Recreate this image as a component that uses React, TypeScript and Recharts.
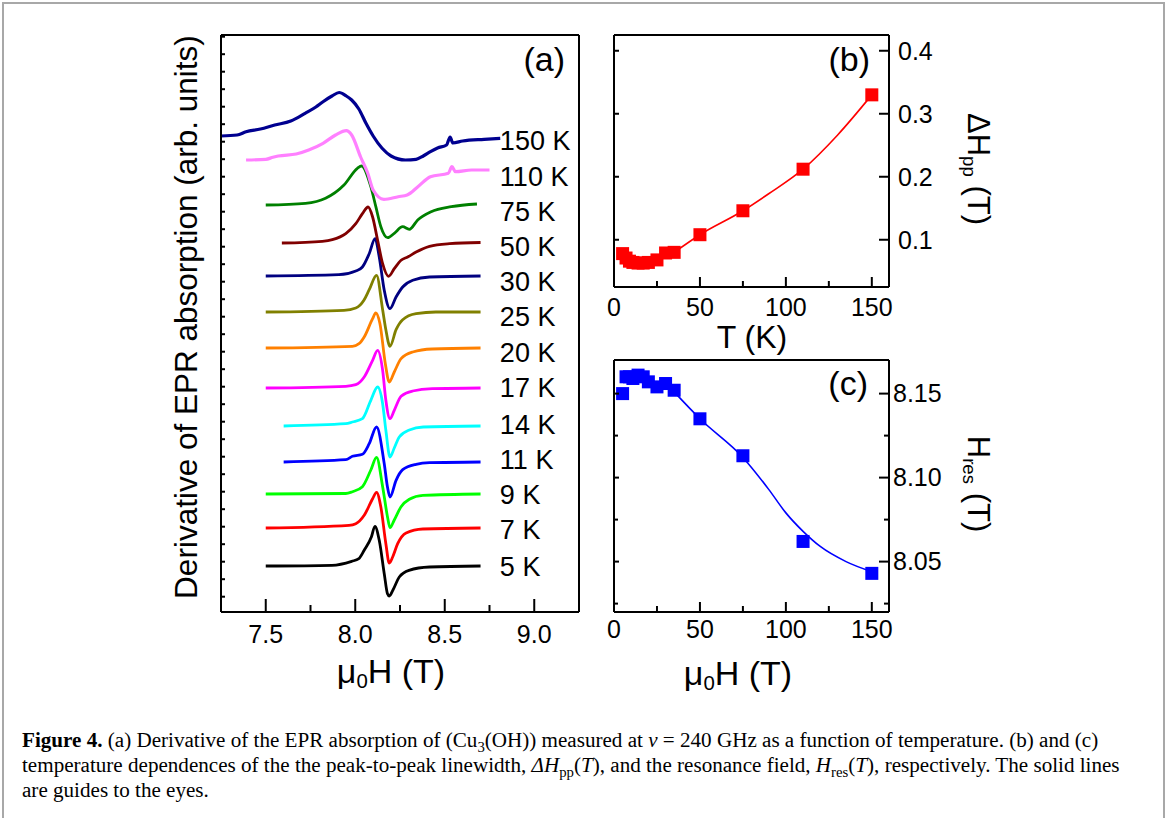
import { LineChart, Line, XAxis, YAxis, ReferenceDot } from "recharts";

const FONT = '"Liberation Sans", Arial, Helvetica, sans-serif';
const SERIF = '"Liberation Serif", "Times New Roman", serif';

// (a) EPR derivative spectra: [field (T), signal above the curve's own baseline]
const s5K = [[7.5, 0], [7.87, 0.7], [7.98, 4.7], [8.02, 7.3], [8.05, 15.7], [8.09, 29], [8.11, 39.7], [8.134, 25.7], [8.162, -7.7], [8.18, -27.7], [8.19, -30], [8.21, -24.3], [8.246, -11], [8.3, -4.3], [8.415, -1], [8.7, 0]];
const s7K = [[7.5, 0], [7.965, 2.7], [8.003, 4.3], [8.05, 12.7], [8.097, 29.3], [8.119, 35.7], [8.143, 21], [8.171, -15.7], [8.19, -35], [8.209, -29], [8.237, -15.7], [8.284, -5], [8.378, -1], [8.7, 0]];
const s9K = [[7.5, 0], [7.947, 0.5], [7.984, 2.3], [8.04, 7.3], [8.087, 24], [8.119, 36.7], [8.153, 7.3], [8.18, -22.7], [8.194, -33.7], [8.218, -26], [8.256, -12.7], [8.302, -5.3], [8.378, -1.3], [8.7, 0]];
const s11K = [[7.6, 0], [7.947, 2.3], [7.984, 5.7], [8.04, 7.7], [8.078, 18.3], [8.119, 35], [8.162, -1.7], [8.18, -25], [8.194, -35], [8.228, -18.3], [8.265, -7.7], [8.34, -2.3], [8.415, -0.7], [8.7, 0]];
const s14K = [[7.6, 0], [7.947, 2.3], [7.984, 4], [8.04, 7.3], [8.087, 25.7], [8.125, 39], [8.153, 22.3], [8.171, -4.3], [8.194, -31], [8.218, -22], [8.246, -11], [8.302, -4], [8.38, -1], [8.7, 0]];
const s17K = [[7.5, 0], [7.947, 1.7], [8.003, 3.3], [8.05, 11], [8.097, 27.7], [8.125, 37.7], [8.153, 17.7], [8.171, -12.3], [8.194, -30.7], [8.218, -22.3], [8.256, -8.3], [8.321, -3], [8.43, -0.7], [8.7, 0]];
const s20K = [[7.5, 0], [7.984, 1.7], [8.021, 4.3], [8.05, 11], [8.097, 29.3], [8.115, 35], [8.138, 24.3], [8.168, -15.7], [8.19, -34], [8.218, -24], [8.256, -10.7], [8.321, -4], [8.43, -1], [8.7, 0]];
const s25K = [[7.5, 0], [7.937, 1.7], [8.003, 4], [8.05, 12.3], [8.078, 22.3], [8.119, 36.7], [8.153, 2.3], [8.171, -17.7], [8.194, -34.3], [8.228, -17.7], [8.265, -7.7], [8.34, -1.7], [8.45, 0], [8.7, 0]];
const s30K = [[7.5, 0], [7.909, 1.3], [8.003, 5], [8.04, 9], [8.078, 22.3], [8.111, 37.3], [8.134, 19], [8.162, -14.3], [8.194, -32.7], [8.228, -21], [8.265, -11], [8.321, -4.3], [8.415, -1], [8.7, 0]];
const s50K = [[7.59, 0], [7.816, 1.7], [7.872, 3.3], [7.947, 9.3], [8.003, 19.3], [8.04, 29.3], [8.072, 36], [8.097, 26], [8.125, 2.7], [8.153, -20.7], [8.186, -33.3], [8.218, -25.7], [8.256, -17.3], [8.293, -14], [8.34, -9], [8.415, -3.3], [8.527, -0.7], [8.7, 0.5]];
const s75K = [[7.5, 0], [7.722, 1.7], [7.834, 6.7], [7.937, 20], [8.012, 36.7], [8.035, 39], [8.087, 18.3], [8.115, -1.7], [8.143, -21.7], [8.181, -32.7], [8.218, -28.3], [8.265, -21.7], [8.302, -24.3], [8.349, -15], [8.424, -6.7], [8.537, -1.7], [8.68, 1]];
const s110K = [[7.39, 0], [7.5, 0.7], [7.54, 2.7], [7.57, 4], [7.67, 6], [7.74, 10], [7.82, 16.7], [7.89, 25], [7.95, 29.3], [7.98, 25], [8.03, 3], [8.07, -13.3], [8.1, -30], [8.16, -39.3], [8.24, -36.7], [8.29, -35], [8.35, -26.7], [8.42, -16.7], [8.52, -13.3], [8.54, -6.7], [8.56, -11.7], [8.65, -10], [8.75, -10]];
const s150K = [[7.25, 0], [7.34, 1], [7.39, 4.3], [7.47, 7], [7.55, 11], [7.64, 15], [7.72, 22.7], [7.78, 29], [7.82, 34.3], [7.87, 40], [7.91, 43.5], [7.95, 40], [7.98, 36], [8.02, 27], [8.06, 12.7], [8.1, 0], [8.15, -12.3], [8.2, -20], [8.28, -24], [8.34, -23.3], [8.38, -20], [8.42, -15.7], [8.46, -12], [8.51, -9], [8.53, -1], [8.545, -7], [8.6, -5], [8.72, -3.3], [8.81, -2.3]];

const SPECTRA = [s5K, s7K, s9K, s11K, s14K, s17K, s20K, s25K, s30K, s50K, s75K, s110K, s150K];
const TEMPS = ["5 K", "7 K", "9 K", "11 K", "14 K", "17 K", "20 K", "25 K", "30 K", "50 K", "75 K", "110 K", "150 K"];
const OFFSETS = [46, 84, 118, 150, 186, 224, 264, 300, 336, 369, 407, 452, 476];
const LABEL_LEVELS = [46, 83, 118, 153, 188, 224.5, 260, 296, 331, 366, 401, 436, 472];
const COLORS = ["#000000", "#ff0000", "#00ff00", "#0000ff", "#00ffff", "#ff00ff", "#ff8000", "#808000", "#000080", "#800000", "#008000", "#ff80ff", "#000090"];

const FIELD_TICKS = [7.5, 8.0, 8.5, 9.0];
const FIELD_ALL = [7.5, 7.75, 8.0, 8.25, 8.5, 8.75, 9.0];
const SPECTRA_TICKS = Array.from({ length: 33 }, (_, i) => 15.3 + 17.5 * i);

// (b) and (c): linewidth and resonance field vs temperature
const T_POINTS = [5, 7, 9, 11, 14, 17, 20, 25, 30, 35, 50, 75, 110, 150];
const DHPP = [0.078, 0.071, 0.066, 0.064, 0.063, 0.063, 0.064, 0.068, 0.079, 0.08, 0.108, 0.146, 0.212, 0.33];
const HRES = [8.15, 8.16, 8.16, 8.159, 8.161, 8.16, 8.157, 8.154, 8.156, 8.152, 8.135, 8.113, 8.062, 8.043];
const DHPP_GUIDE_T = [35, 50, 75, 90, 110, 130, 150];
const DHPP_GUIDE = [0.08, 0.108, 0.146, 0.173, 0.212, 0.266, 0.33];
const HRES_GUIDE_T = [35, 50, 75, 90, 100, 110, 120, 135, 150];
const HRES_GUIDE = [8.151, 8.135, 8.112, 8.093, 8.079, 8.068, 8.059, 8.05, 8.044];

const T_TICKS = [0, 50, 100, 150];
const T_ALL = [0, 25, 50, 75, 100, 125, 150];
const DHPP_TICKS = [0.1, 0.2, 0.3, 0.4];
const HRES_TICKS = [8.05, 8.1, 8.15];
const HRES_ALL = [8.025, 8.05, 8.075, 8.1, 8.125, 8.15];

const frame = { stroke: "#000", strokeWidth: 2 };
const isIn = (list: number[], v: number) => list.some((m) => Math.abs(m - v) < 1e-9);

// Inward tick marks (Origin style) with optional labels on the major ticks
function makeTick(side: string, majors: number[], majorLen: number, minorLen: number, gap = 0, fmt?: (v: number) => string, fontSize = 25) {
  return (props: any) => {
    const { x, y, payload, index } = props;
    const v = payload.value as number;
    const major = isIn(majors, v);
    const len = major ? majorLen : minorLen;
    const dx = side === "left" ? len : side === "right" ? -len : 0;
    const dy = side === "bottom" ? -len : side === "top" ? len : 0;
    const text = major && fmt ? fmt(v) : null;
    return (
      <g key={`tk-${side}-${index}`}>
        {len > 0 && <line x1={x} y1={y} x2={x + dx} y2={y + dy} stroke="#000" strokeWidth={2} />}
        {text && side === "bottom" && (
          <text x={x} y={y + gap} dy="0.71em" textAnchor="middle" fill="#000" fontSize={fontSize} fontFamily={FONT}>{text}</text>
        )}
        {text && side === "right" && (
          <text x={x + gap} y={y} dy="0.355em" textAnchor="start" fill="#000" fontSize={fontSize} fontFamily={FONT}>{text}</text>
        )}
      </g>
    );
  };
}

const square = (color: string) => (props: any) => {
  const { cx, cy, index } = props;
  if (cx == null || cy == null) return <g key={`sq-${index}`} />;
  return <rect key={`sq-${index}`} x={cx - 6.5} y={cy - 6.5} width={13} height={13} fill={color} />;
};

function SpectraPanel() {
  const dom: [number, number] = [7.25, 9.25];
  const ydom: [number, number] = [0, 577];
  return (
    <LineChart width={600} height={660} margin={{ top: 15, right: 1, bottom: 28, left: 201 }}>
      <XAxis xAxisId="b" type="number" dataKey="h" domain={dom} allowDataOverflow ticks={FIELD_ALL} interval={0}
        height={20} tickSize={0} tickMargin={0} tickLine={false} axisLine={frame}
        tick={makeTick("bottom", FIELD_TICKS, 13, 7, 13, (v) => v.toFixed(1))} />
      <XAxis xAxisId="t" orientation="top" type="number" domain={dom} allowDataOverflow ticks={FIELD_ALL} interval={0}
        height={20} tickSize={0} tickMargin={0} tickLine={false} axisLine={frame}
        tick={makeTick("top", FIELD_TICKS, 6, 4)} />
      <YAxis yAxisId="l" type="number" domain={ydom} allowDataOverflow ticks={SPECTRA_TICKS} interval={0}
        width={20} tickSize={0} tickMargin={0} tickLine={false} axisLine={frame}
        tick={makeTick("left", SPECTRA_TICKS, 4, 4)} />
      <YAxis yAxisId="r" orientation="right" type="number" domain={ydom} allowDataOverflow
        width={20} tick={false} tickLine={false} axisLine={frame} />
      {SPECTRA.map((pts, i) => (
        <Line key={TEMPS[i]} xAxisId="b" yAxisId="l" type="monotone" dataKey="v"
          data={pts.map(([h, d]) => ({ h, v: OFFSETS[i] + d }))}
          stroke={COLORS[i]} strokeWidth={i >= 11 ? 3.2 : 2.8} dot={false} isAnimationActive={false} />
      ))}
      {TEMPS.map((t, i) => (
        <ReferenceDot key={"lab" + t} xAxisId="b" yAxisId="l" x={8.78} y={LABEL_LEVELS[i]} r={0}
          fill="none" stroke="none"
          label={{ value: t, position: "right", fill: "#000", fontSize: 27, fontFamily: FONT }} />
      ))}
    </LineChart>
  );
}

function TempPanel(props: {
  width: number; height: number; margin: any; ydom: [number, number];
  yTicks: number[]; yAll: number[]; digits: number; rightGap: number; bottomGap: number;
  values: number[]; guideT: number[]; guide: number[]; color: string;
}) {
  const dom: [number, number] = [0, 160];
  const pts = T_POINTS.map((t, i) => ({ t, y: props.values[i] }));
  const guide = props.guideT.map((t, i) => ({ t, y: props.guide[i] }));
  return (
    <LineChart width={props.width} height={props.height} margin={props.margin}>
      <XAxis xAxisId="b" type="number" dataKey="t" domain={dom} allowDataOverflow ticks={T_ALL} interval={0}
        height={20} tickSize={0} tickMargin={0} tickLine={false} axisLine={frame}
        tick={makeTick("bottom", T_TICKS, 10, 6, props.bottomGap, (v) => String(v))} />
      <XAxis xAxisId="t" orientation="top" type="number" domain={dom} allowDataOverflow ticks={T_ALL.slice(1, -1)} interval={0}
        height={20} tickSize={0} tickMargin={0} tickLine={false} axisLine={frame}
        tick={makeTick("top", T_TICKS, 6, 4)} />
      <YAxis yAxisId="l" type="number" domain={props.ydom} allowDataOverflow ticks={props.yAll} interval={0}
        width={20} tickSize={0} tickMargin={0} tickLine={false} axisLine={frame}
        tick={makeTick("left", props.yTicks, 5, 4)} />
      <YAxis yAxisId="r" orientation="right" type="number" domain={props.ydom} allowDataOverflow ticks={props.yAll}
        interval={0} width={20} tickSize={0} tickMargin={0} tickLine={false} axisLine={frame}
        tick={makeTick("right", props.yTicks, 10, 5, props.rightGap, (v) => v.toFixed(props.digits))} />
      <Line xAxisId="b" yAxisId="l" data={guide} dataKey="y" type="monotone" stroke={props.color}
        strokeWidth={1.6} dot={false} isAnimationActive={false} />
      <Line xAxisId="b" yAxisId="l" data={pts} dataKey="y" stroke="none" dot={square(props.color)}
        activeDot={false} isAnimationActive={false} />
    </LineChart>
  );
}

const abs = (left: number, top: number, extra: any = {}) => ({
  position: "absolute" as const, left, top, lineHeight: 1, whiteSpace: "nowrap" as const,
  fontFamily: FONT, color: "#000", ...extra,
});
const sub = { fontSize: "0.6em", verticalAlign: "-0.25em" };
const capSub = { fontSize: "0.7em", lineHeight: 0 };

export default function App() {
  return (
    <div style={{ position: "fixed", left: 0, top: 0, width: 1168, height: 818, background: "#fff", overflow: "hidden" }}>
      <div style={{ position: "absolute", left: 2, top: 2, width: 1159, height: 900, border: "2px solid #a8a8a8" }} />
      <div style={{ position: "absolute", left: 0, top: 0 }}><SpectraPanel /></div>
      <div style={{ position: "absolute", left: 590, top: 0 }}>
        <TempPanel width={420} height={330} margin={{ top: 15, right: 101, bottom: 23, left: 4 }}
          ydom={[0.025, 0.425]} yTicks={DHPP_TICKS} yAll={DHPP_TICKS} digits={1} rightGap={9} bottomGap={11}
          values={DHPP} guideT={DHPP_GUIDE_T} guide={DHPP_GUIDE} color="#ff0000" />
      </div>
      <div style={{ position: "absolute", left: 590, top: 340 }}>
        <TempPanel width={420} height={310} margin={{ top: 0, right: 101, bottom: 18, left: 4 }}
          ydom={[8.02, 8.17]} yTicks={HRES_TICKS} yAll={HRES_ALL} digits={2} rightGap={4} bottomGap={8}
          values={HRES} guideT={HRES_GUIDE_T} guide={HRES_GUIDE} color="#0000ff" />
      </div>

      <div style={abs(187, 317, { fontSize: 31.5, transform: "translate(-50%, -50%) rotate(-90deg)" })}>
        Derivative of EPR absorption (arb. units)
      </div>
      <div style={abs(391, 654, { fontSize: 34, transform: "translateX(-50%)" })}>
        μ<span style={sub}>0</span>H (T)
      </div>
      <div style={abs(738, 656, { fontSize: 34, transform: "translateX(-50%)" })}>
        μ<span style={sub}>0</span>H (T)
      </div>
      <div style={abs(752, 321, { fontSize: 32, transform: "translateX(-50%)" })}>T (K)</div>
      <div style={abs(565, 42, { fontSize: 34, transform: "translateX(-100%)" })}>(a)</div>
      <div style={abs(870, 42, { fontSize: 34, transform: "translateX(-100%)" })}>(b)</div>
      <div style={abs(868, 366, { fontSize: 34, transform: "translateX(-100%)" })}>(c)</div>
      <div style={abs(977, 169, { fontSize: 31, transform: "translate(-50%, -50%) rotate(90deg)" })}>
        ΔH<span style={sub}>pp</span> (T)
      </div>
      <div style={abs(977, 484, { fontSize: 31, transform: "translate(-50%, -50%) rotate(90deg)" })}>
        H<span style={sub}>res</span> (T)
      </div>

      <div style={{ position: "absolute", left: 22, top: 728, fontFamily: SERIF, fontSize: 21.1, lineHeight: "25px", color: "#000", whiteSpace: "nowrap" }}>
        <div><b>Figure 4.</b> (a) Derivative of the EPR absorption of (Cu<sub style={capSub}>3</sub>(OH)) measured at <i>ν</i> = 240 GHz as a function of temperature. (b) and (c)</div>
        <div>temperature dependences of the the peak-to-peak linewidth, <i>ΔH</i><sub style={capSub}>pp</sub>(<i>T</i>), and the resonance field, <i>H</i><sub style={capSub}>res</sub>(<i>T</i>), respectively. The solid lines</div>
        <div>are guides to the eyes.</div>
      </div>
    </div>
  );
}
